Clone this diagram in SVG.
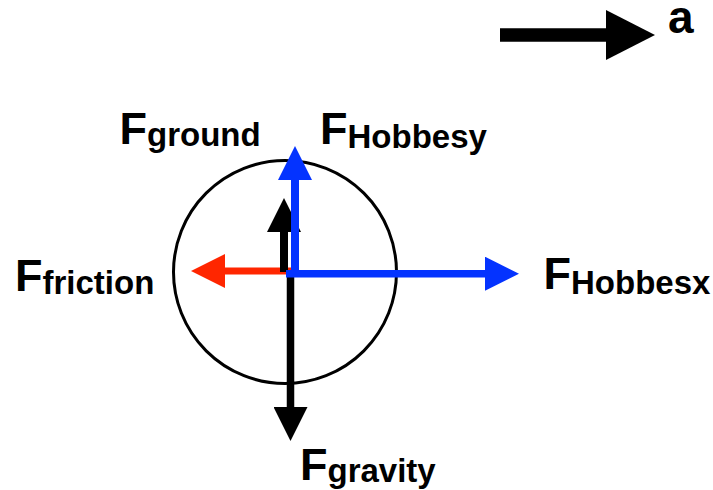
<svg xmlns="http://www.w3.org/2000/svg" width="713" height="490" viewBox="0 0 713 490">
<style>
.lbl{font-family:"Liberation Sans",Arial,Helvetica,sans-serif;font-weight:bold;fill:#000}
.F{font-size:45px}
.sub{font-size:33px}
.blk{stroke:#000;fill:none}
.blue{stroke:#0433FF;fill:none}
.red{stroke:#FF2600;fill:none}
</style>
<defs>
<marker id="hBlack" viewBox="0 0 34 34" markerWidth="34" markerHeight="34" refX="0" refY="17" orient="auto" markerUnits="userSpaceOnUse"><path d="M0,0 L34,17 L0,34 Z" fill="#000"/></marker>
<marker id="hBlue" viewBox="0 0 34 34" markerWidth="34" markerHeight="34" refX="0" refY="17" orient="auto" markerUnits="userSpaceOnUse"><path d="M0,0 L34,17 L0,34 Z" fill="#0433FF"/></marker>
<marker id="hRed" viewBox="0 0 34 34" markerWidth="34" markerHeight="34" refX="0" refY="17" orient="auto" markerUnits="userSpaceOnUse"><path d="M0,0 L34,17 L0,34 Z" fill="#FF2600"/></marker>
<marker id="hBig" viewBox="0 0 49 50" markerWidth="49" markerHeight="50" refX="0" refY="25" orient="auto" markerUnits="userSpaceOnUse"><path d="M0,0 L49,25 L0,50 Z" fill="#000"/></marker>
</defs>
<g id="body">
<circle cx="285" cy="272" r="111.5" fill="none" stroke="#000" stroke-width="3"/>
</g>
<g id="connectors">
<line class="red" x1="291" y1="271" x2="225" y2="271" stroke-width="7" marker-end="url(#hRed)"/>
<line class="blk" x1="284" y1="272" x2="284" y2="232" stroke-width="8" marker-end="url(#hBlack)"/>
<line class="blk" x1="290.5" y1="271" x2="290.5" y2="407" stroke-width="7.5" marker-end="url(#hBlack)"/>
<line class="blue" x1="295" y1="277" x2="295" y2="180" stroke-width="8" marker-end="url(#hBlue)"/>
<line class="blue" x1="286" y1="273.7" x2="485" y2="273.7" stroke-width="7.5" marker-end="url(#hBlue)"/>
<line class="blk" x1="500" y1="35" x2="606" y2="35" stroke-width="13.3" marker-end="url(#hBig)"/>
</g>
<g id="label-a"><text class="lbl" x="668" y="33" font-size="46">a</text></g>
<g id="label-ground"><text class="lbl" x="119.5" y="144"><tspan class="F">F</tspan><tspan class="sub" dy="2">ground</tspan></text></g>
<g id="label-hobbesy"><text class="lbl" x="320" y="144"><tspan class="F">F</tspan><tspan class="sub" dy="4">Hobbesy</tspan></text></g>
<g id="label-friction"><text class="lbl" x="15" y="291"><tspan class="F">F</tspan><tspan class="sub" dy="3">friction</tspan></text></g>
<g id="label-hobbesx"><text class="lbl" x="543.5" y="289"><tspan class="F">F</tspan><tspan class="sub" dy="5">Hobbesx</tspan></text></g>
<g id="label-gravity"><text class="lbl" x="300" y="480"><tspan class="F">F</tspan><tspan class="sub" dy="2">gravity</tspan></text></g>
</svg>
